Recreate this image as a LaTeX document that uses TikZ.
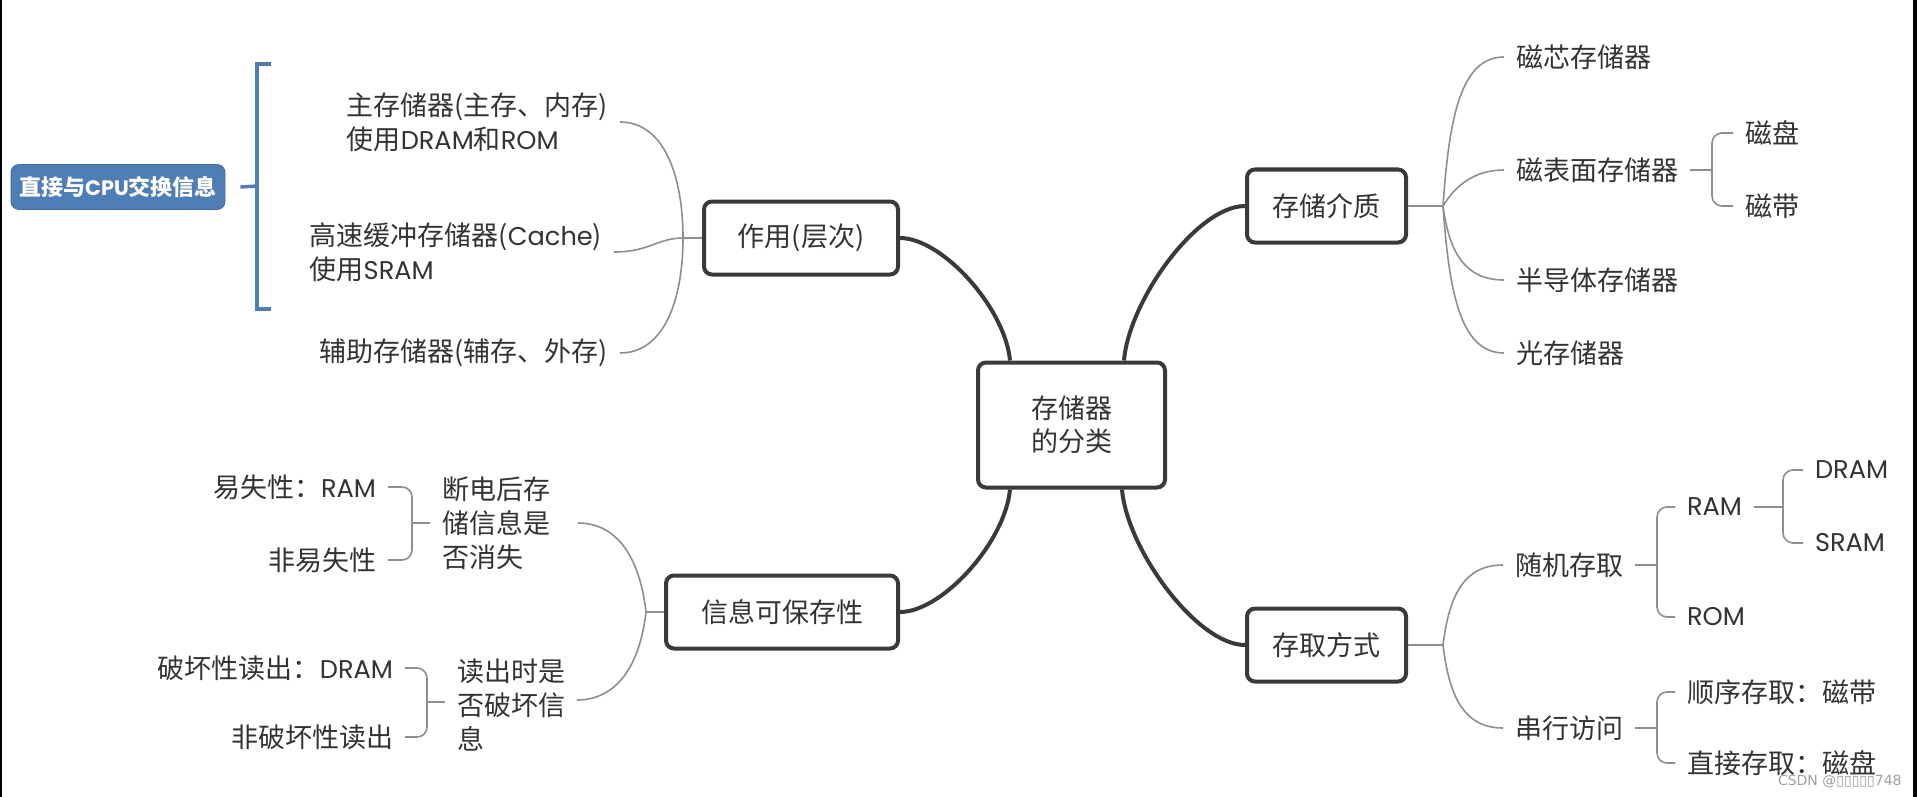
\documentclass[tikz,border=0pt]{standalone}
\usepackage{fontspec}
\setmainfont{Noto Sans CJK SC}
\newfontfamily\dvs{DejaVu Sans}
\newfontfamily\latf[Scale=0.95]{Poppins}
\newcommand{\lt}[1]{{\latf #1}}
\usetikzlibrary{calc}
\definecolor{ink}{HTML}{333333}
\definecolor{boxc}{HTML}{3A3A3A}
\definecolor{twigc}{HTML}{8E8E8E}
\definecolor{bluec}{HTML}{4E7EB3}
\begin{document}
\begin{tikzpicture}[x=0.5pt,y=-0.5pt,
  font=\fontsize{13.5pt}{17pt}\selectfont, text=ink,
  mainbox/.style={draw=boxc, line width=2pt, rounded corners=4pt, minimum height=36.5pt, inner sep=0pt, align=center, fill=white},
  leaf/.style={inner sep=0pt, outer xsep=6pt, outer ysep=0pt, align=left},
  trunk/.style={draw=boxc, line width=2pt},
  twig/.style={draw=twigc, line width=0.8pt},
  brk/.style={twig, rounded corners=5pt},
  bluebr/.style={draw=bluec, line width=1.7pt}]
\fill[white] (0,0) rectangle (1917,797);
\useasboundingbox (0,0) rectangle (1917,797);
\fill[black] (0,0) rectangle (1.5,797);
\fill[black] (1913,0) rectangle (1917,797);

% main boxes
\node[mainbox, minimum width=93.5pt, minimum height=62.5pt, font=\fontsize{13.5pt}{16.5pt}\selectfont] (root) at (1071.5,425) {存储器\\的分类};
\node[mainbox, minimum width=97pt] (zy) at (801,238) {作用(层次)};
\node[mainbox, minimum width=79.5pt] (jz) at (1326.5,206) {存储介质};
\node[mainbox, minimum width=79.5pt] (qf) at (1326.5,645) {存取方式};
\node[mainbox, minimum width=116pt] (bc) at (782,612) {信息可保存性};

\coordinate (rnw) at ($(root.north west)+(34,0)$);
\coordinate (rne) at ($(root.north east)+(-43,0)$);
\coordinate (rsw) at ($(root.south west)+(34,0)$);
\coordinate (rse) at ($(root.south east)+(-45,0)$);

\draw[trunk] (zy.east) .. controls +(42,0) and +(-5,-53) .. (rnw);
\draw[trunk] (rne) .. controls +(5,-60) and +(-48,0) .. (jz.west);
\draw[trunk] (rsw) .. controls +(-5,53) and +(42,0) .. (bc.east);
\draw[trunk] (rse) .. controls +(5,60) and +(-48,0) .. (qf.west);

% blue summary
\node[fill=bluec, draw=bluec!85!black, rounded corners=4pt, minimum width=107pt, minimum height=22.5pt, text=white, font=\bfseries\fontsize{11pt}{13pt}\selectfont, inner sep=0pt] (cpu) at (118,187) {直接与\lt{CPU}交换信息};
\coordinate (bt) at (271,64);
\coordinate (bb) at (271,309);
\coordinate (bm) at (257,186);
\draw[bluebr] (bt) -| (bm) |- (bb);
\draw[bluebr] (bm) -- ($(cpu.east)+(15,0)$);

% left-top leaves
\node[leaf, anchor=east] (a1) at (620,122) {主存储器(主存、内存)\\使用\lt{DRAM}和\lt{ROM}};
\node[leaf, anchor=east] (a2) at (614,252) {高速缓冲存储器(\lt{Cache})\\使用\lt{SRAM}};
\node[leaf, anchor=east] (a3) at (620,353) {辅助存储器(辅存、外存)};
\coordinate (j1) at (683,238);
\draw[twig] (zy.west) -- (j1);
\draw[twig] (j1) .. controls +(0,-60) and +(45,0) .. (a1.east);
\draw[twig] (j1) .. controls +(-25,0) and +(35,0) .. (a2.east);
\draw[twig] (j1) .. controls +(0,60) and +(45,0) .. (a3.east);

% right-top leaves
\node[leaf, anchor=west] (b1) at (1504,57) {磁芯存储器};
\node[leaf, anchor=west] (b2) at (1504,170) {磁表面存储器};
\node[leaf, anchor=west] (b3) at (1504,280) {半导体存储器};
\node[leaf, anchor=west] (b4) at (1504,353) {光存储器};
\coordinate (j2) at (1443,206);
\draw[twig] (jz.east) -- (j2);
\draw[twig] (j2) .. controls +(6,-86) and +(-44,0) .. (b1.west);
\draw[twig] (j2) .. controls +(12,-20) and +(-30,0) .. (b2.west);
\draw[twig] (j2) .. controls +(6,45) and +(-40,0) .. (b3.west);
\draw[twig] (j2) .. controls +(6,85) and +(-44,0) .. (b4.west);

\node[leaf, anchor=west] (c1) at (1733,133) {磁盘};
\node[leaf, anchor=west] (c2) at (1733,206) {磁带};
\coordinate (j3) at (1712,170);
\draw[twig] (b2.east) -- (j3);
\draw[brk] (c1.west) -| (j3) |- (c2.west);

% right-bottom leaves
\node[leaf, anchor=west] (d1) at (1503,565) {随机存取};
\node[leaf, anchor=west] (d2) at (1503,728) {串行访问};
\coordinate (j4) at (1443,645);
\draw[twig] (qf.east) -- (j4);
\draw[twig] (j4) .. controls +(6,-48) and +(-40,0) .. (d1.west);
\draw[twig] (j4) .. controls +(6,50) and +(-40,0) .. (d2.west);

\node[leaf, anchor=west] (e1) at (1675,507) {\lt{RAM}};
\node[leaf, anchor=west] (e2) at (1675,617) {\lt{ROM}};
\coordinate (j5) at (1657,565);
\draw[twig] (d1.east) -- (j5);
\draw[brk] (e1.west) -| (j5) |- (e2.west);

\node[leaf, anchor=west] (f1) at (1803,470) {\lt{DRAM}};
\node[leaf, anchor=west] (f2) at (1803,543) {\lt{SRAM}};
\coordinate (j6) at (1783,507);
\draw[twig] (e1.east) -- (j6);
\draw[brk] (f1.west) -| (j6) |- (f2.west);

\node[leaf, anchor=west] (g1) at (1675,692) {顺序存取：磁带};
\node[leaf, anchor=west] (g2) at (1675,763) {直接存取：磁盘};
\coordinate (j7) at (1657,728);
\draw[twig] (d2.east) -- (j7);
\draw[brk] (g1.west) -| (j7) |- (g2.west);

% left-bottom leaves
\node[leaf, anchor=west] (h1) at (430,523) {断电后存\\储信息是\\否消失};
\node[leaf, anchor=west] (h2) at (445,705) {读出时是\\否破坏信\\息};
\coordinate (j8) at (646,612);
\draw[twig] (bc.west) -- (j8);
\draw[twig] (j8) .. controls +(-6,-53) and +(40,0) .. ($(h1.east)+(16,0)$);
\draw[twig] (j8) .. controls +(-6,53) and +(40,0) .. ($(h2.east)+(0,-5)$);

\node[leaf, anchor=east] (i1) at (388,487) {易失性：\lt{RAM}};
\node[leaf, anchor=east] (i2) at (388,560) {非易失性};
\coordinate (j9) at (412,523);
\draw[twig] (h1.west) -- (j9);
\draw[brk] (i1.east) -| (j9) |- (i2.east);

\node[leaf, anchor=east] (k1) at (405,668) {破坏性读出：\lt{DRAM}};
\node[leaf, anchor=east] (k2) at (405,737) {非破坏性读出};
\coordinate (j10) at (427,702);
\draw[twig] ($(h2.west)+(0,-3)$) -- (j10);
\draw[brk] (k1.east) -| (j10) |- (k2.east);

% watermark
\node[anchor=east, text=gray!75, font=\dvs\fontsize{7pt}{8pt}\selectfont, inner sep=0pt] (wm) at (1902,782) {CSDN @▯▯▯▯▯748};
\end{tikzpicture}
\end{document}
